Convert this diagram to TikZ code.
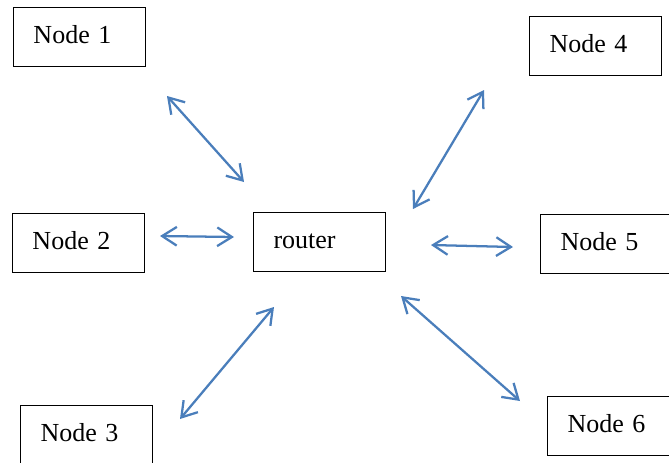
\documentclass[tikz,border=0pt]{standalone}
\usepackage{fontspec}
\setmainfont{Liberation Serif}
\usepackage{tikz}
\usetikzlibrary{arrows.meta}
\definecolor{linkblue}{RGB}{74,126,187}
\tikzset{>={Straight Barb[length=11pt, width=14pt]}}
\tikzstyle{box} = [draw=black, line width=0.75pt, anchor=north west, minimum height=44.25pt, text width=69pt, text height=13pt, text depth=4pt, align=left, inner xsep=15pt, inner ysep=0pt, font=\fontsize{19.5}{22}\selectfont]
\tikzstyle{link} = [<->, draw=linkblue, line width=1.7pt]

\begin{document}
\begin{tikzpicture}[x=0.75pt, y=-0.75pt]
\useasboundingbox (0,0) rectangle (669,462);
\node [box] (N1) at (13,7) {Node 1};
\node [box] (N2) at (12,213) {Node 2};
\node [box] (N3) at (20,405) {Node 3};
\node [box] (R) at (253,212) {router};
\node [box] (N4) at (529,16) {Node 4};
\node [box] (N5) at (540,214) {Node 5};
\node [box] (N6) at (547,396) {Node 6};
\coordinate (A1) at (167,96);
\coordinate (B1) at (244,182);
\coordinate (A2) at (160,236);
\coordinate (B2) at (234,237);
\coordinate (A3) at (180,419);
\coordinate (B3) at (274,307);
\coordinate (A4) at (484,90);
\coordinate (B4) at (413,209);
\coordinate (A5) at (431,245);
\coordinate (B5) at (513,247);
\coordinate (A6) at (401,296);
\coordinate (B6) at (520,401);
\draw [link] (A1) to (B1);
\draw [link] (A2) to (B2);
\draw [link] (A3) to (B3);
\draw [link] (A4) to (B4);
\draw [link] (A5) to (B5);
\draw [link] (A6) to (B6);
\end{tikzpicture}
\end{document}
